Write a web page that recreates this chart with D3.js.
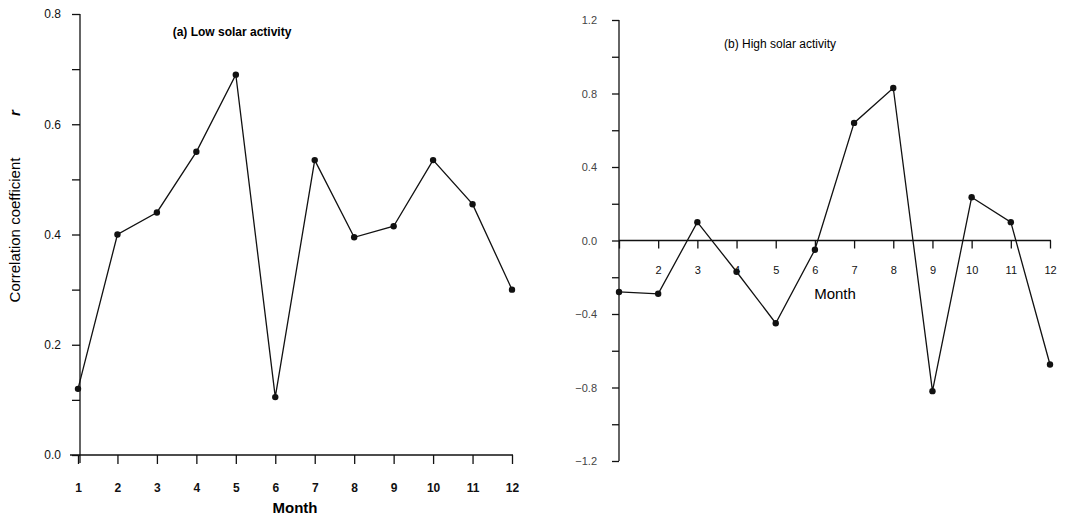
<!DOCTYPE html>
<html>
<head>
<meta charset="utf-8">
<script src="https://cdn.jsdelivr.net/npm/d3@7"></script>
<style>
  body { margin: 0; background: #fff; }
  svg { font-family: "Liberation Sans", Arial, sans-serif; }
  .axis path, .axis line { stroke: #111; stroke-width: 1.3; }
  .axis text { fill: #111; font-size: 12px; }
  .series { fill: none; stroke: #111; stroke-width: 1.3; }
  .dot { fill: #111; }
</style>
</head>
<body>
<div id="chart"></div>
<script>
// months on both panels
var months = [1, 2, 3, 4, 5, 6, 7, 8, 9, 10, 11, 12]

// (a) low solar activity
var lowValues = [0.12, 0.40, 0.44, 0.55, 0.69, 0.105, 0.535, 0.395, 0.415, 0.535, 0.455, 0.30]
var lowTicks = [0.0, 0.2, 0.4, 0.6, 0.8]
var lowMinor = [0.1, 0.3, 0.5, 0.7]

// (b) high solar activity
var highValues = [-0.28, -0.29, 0.10, -0.17, -0.45, -0.05, 0.64, 0.83, -0.82, 0.235, 0.10, -0.675]
var highTicks = [-1.2, -0.8, -0.4, 0.0, 0.4, 0.8, 1.2]
var highMinor = [-1.0, -0.6, -0.2, 0.2, 0.6, 1.0]
var highMonthLabels = [2, 3, 4, 5, 6, 7, 8, 9, 10, 11, 12]

var svg = d3.select("#chart").append("svg")
   .attr("width", 1080)
   .attr("height", 521)

var fmt = d3.format(".1f")

// ---------- panel (a) ----------
var xa = d3.scaleLinear().domain([1, 12]).range([78, 512])
var ya = d3.scaleLinear().domain([0, 0.8]).range([455, 14])

var gA = svg.append("g")

gA.append("g")
   .attr("class", "axis")
   .attr("transform", "translate(80,0)")
   .call(d3.axisLeft(ya).tickValues(lowTicks.concat(lowMinor)).tickSize(8)
      .tickFormat(function (d) { return lowTicks.indexOf(d) >= 0 ? fmt(d) : "" }))
   .call(function (g) {
      g.select(".domain").attr("d", "M0,14V463")
      g.selectAll(".tick text").attr("x", -19)
   })

gA.append("g")
   .attr("class", "axis")
   .attr("transform", "translate(0," + ya(0) + ")")
   .call(d3.axisBottom(xa).tickValues(months).tickSize(9).tickFormat(d3.format("d")))
   .call(function (g) {
      g.select(".domain").attr("d", "M70,0H513")
      g.selectAll(".tick text").attr("y", 28).style("font-weight", "bold")
   })

gA.append("text")
   .attr("x", 295).attr("y", 513)
   .attr("text-anchor", "middle")
   .style("font-size", "15px").style("font-weight", "bold")
   .text("Month")

// rotated y label, with the symbol r set apart above it
gA.append("text")
   .attr("transform", "translate(20,230) rotate(-90)")
   .attr("text-anchor", "middle")
   .style("font-size", "15px")
   .text("Correlation coefficient")

gA.append("text")
   .attr("transform", "translate(20,113) rotate(-90)")
   .attr("text-anchor", "middle")
   .style("font-size", "15px").style("font-style", "italic").style("font-weight", "bold")
   .text("r")

gA.append("text")
   .attr("x", 232).attr("y", 36)
   .attr("text-anchor", "middle")
   .style("font-size", "12px").style("font-weight", "bold")
   .text("(a) Low solar activity")

var lineA = d3.line()
   .x(function (d, i) { return xa(months[i]) })
   .y(function (d) { return ya(d) })

gA.append("path").datum(lowValues).attr("class", "series").attr("d", lineA)

gA.selectAll("circle.dot").data(lowValues)
   .join("circle")
   .attr("class", "dot")
   .attr("cx", function (d, i) { return xa(months[i]) })
   .attr("cy", function (d) { return ya(d) })
   .attr("r", 3.2)

// ---------- panel (b) ----------
var xb = d3.scaleLinear().domain([1, 12]).range([619, 1050])
var yb = d3.scaleLinear().domain([-1.2, 1.2]).range([461, 20])

var gB = svg.append("g")

gB.append("g")
   .attr("class", "axis")
   .attr("transform", "translate(619,0)")
   .call(d3.axisLeft(yb).tickValues(highTicks.concat(highMinor)).tickSize(7)
      .tickFormat(function (d) { return highTicks.indexOf(d) >= 0 ? fmt(d) : "" }))
   .call(function (g) {
      g.select(".domain").attr("d", "M0,20V461")
      g.selectAll(".tick text").attr("x", -22).style("fill", "#444").style("font-size", "11px")
   })

gB.append("g")
   .attr("class", "axis")
   .attr("transform", "translate(0," + yb(0) + ")")
   .call(d3.axisBottom(xb).tickValues(months).tickSize(8)
      .tickFormat(function (d) { return highMonthLabels.indexOf(d) >= 0 ? d : "" }))
   .call(function (g) {
      g.select(".domain").attr("d", "M619,0H1051")
      g.selectAll(".tick text").attr("y", 26).style("font-size", "11px")
   })

gB.append("text")
   .attr("x", 835).attr("y", 299)
   .attr("text-anchor", "middle")
   .style("font-size", "15px")
   .text("Month")

gB.append("text")
   .attr("x", 780).attr("y", 48)
   .attr("text-anchor", "middle")
   .style("font-size", "12px")
   .text("(b) High solar activity")

var lineB = d3.line()
   .x(function (d, i) { return xb(months[i]) })
   .y(function (d) { return yb(d) })

gB.append("path").datum(highValues).attr("class", "series").attr("d", lineB)

gB.selectAll("circle.dot").data(highValues)
   .join("circle")
   .attr("class", "dot")
   .attr("cx", function (d, i) { return xb(months[i]) })
   .attr("cy", function (d) { return yb(d) })
   .attr("r", 3.2)
</script>
</body>
</html>
